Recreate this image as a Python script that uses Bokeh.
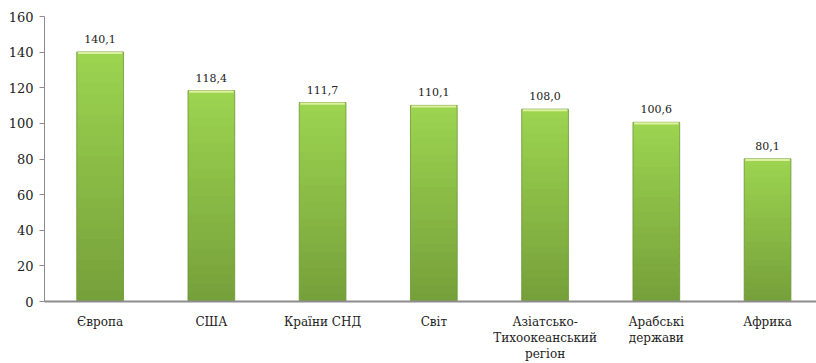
from bokeh.plotting import figure
from bokeh.models import Range1d, FixedTicker, ColumnDataSource
from bokeh.embed import file_html
from bokeh.resources import INLINE

categories = ["Європа", "США", "Країни СНД", "Світ", "Азіатсько-\nТихоокеанський\nрегіон", "Арабські\nдержави", "Африка"]
values = [140.1, 118.4, 111.7, 110.1, 108.0, 100.6, 80.1]
value_labels = ["140,1", "118,4", "111,7", "110,1", "108,0", "100,6", "80,1"]
y_ticks = [0, 20, 40, 60, 80, 100, 120, 140, 160]

xs = list(range(len(categories)))

# vertical gradient: bright green at top, darker olive-green at bottom
top_rgb = (156, 212, 80)
bot_rgb = (118, 160, 58)
N = 24
gx, gb, gt, gc = [], [], [], []
for x, v in zip(xs, values):
    for k in range(N):
        f = k / (N - 1)
        r = tuple(int(round(bot_rgb[i] + (top_rgb[i] - bot_rgb[i]) * f)) for i in range(3))
        gx.append(x)
        gb.append(v * k / N)
        gt.append(min(v, v * (k + 1) / N + 0.8))
        gc.append("#%02x%02x%02x" % r)
grad = ColumnDataSource(dict(x=gx, bottom=gb, top=gt, color=gc))
src = ColumnDataSource(dict(x=xs, top=values, lab=value_labels,
                            cap=[v - 1.2 for v in values]))

FONT = "DejaVu Serif"
p = figure(width=816, height=363, output_backend="svg", toolbar_location=None,
           x_range=Range1d(-0.5, 6.44), y_range=Range1d(0, 160),
           min_border_left=44, min_border_right=0, min_border_top=16, min_border_bottom=62)
p.outline_line_color = None
p.grid.grid_line_color = None
p.background_fill_color = "white"

bw = 0.42
p.vbar(x="x", top="top", bottom="bottom", width=bw, source=grad,
       fill_color="color", line_color=None)
p.vbar(x="x", top="top", width=bw, bottom=0, source=src,
       fill_color=None, line_color="#6E9636", line_width=1, line_alpha=0.8)
p.vbar(x="x", top="top", bottom="cap", width=bw - 0.02, source=src,
       fill_color="#DDEFA0", line_color=None)

p.text(x="x", y="top", text="lab", source=src, text_align="center",
       text_baseline="bottom", y_offset=-9, text_font_size="11px",
       text_font={"value": FONT}, text_color="#222222")

p.yaxis.ticker = FixedTicker(ticks=y_ticks)
p.yaxis.major_label_text_font = FONT
p.yaxis.major_label_text_font_size = "13px"
p.yaxis.major_label_text_color = "#222222"
p.yaxis.axis_line_color = "#8c8c8c"
p.yaxis.major_tick_line_color = "#8c8c8c"
p.yaxis.major_tick_out = 5
p.yaxis.major_tick_in = 0
p.yaxis.minor_tick_line_color = None
p.yaxis.major_label_standoff = 6

p.xaxis.ticker = FixedTicker(ticks=xs)
p.xaxis.major_label_overrides = {i: c for i, c in enumerate(categories)}
p.xaxis.major_label_text_font = FONT
p.xaxis.major_label_text_font_size = "12px"
p.xaxis.major_label_text_line_height = 1.15
p.xaxis.major_label_text_color = "#222222"
p.xaxis.axis_line_color = "#8c8c8c"
p.xaxis.axis_line_width = 2
p.xaxis.major_tick_line_color = None
p.xaxis.major_tick_out = 0
p.xaxis.major_tick_in = 0
p.xaxis.minor_tick_line_color = None
p.xaxis.major_label_standoff = 13

open("out.html", "w").write(file_html(p, INLINE))
